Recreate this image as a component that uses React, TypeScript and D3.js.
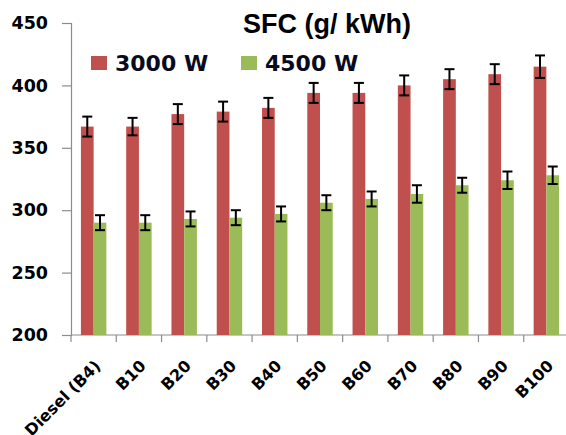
import React, { useRef, useEffect } from 'react';
import * as d3 from 'd3';

const categories = ['Diesel (B4)', 'B10', 'B20', 'B30', 'B40', 'B50', 'B60', 'B70', 'B80', 'B90', 'B100'];
const seriesNames = ['3000 W', '4500 W'];
const sfc3000 = [367, 367, 377, 379, 382, 394, 394, 400, 405, 409, 415];
const sfc4500 = [290, 290, 293, 294, 297, 306, 309, 313, 320, 324, 328];
const err3000 = [8, 7, 8, 8, 8, 8, 8, 8, 8, 8, 9];
const err4500 = [6, 6, 6, 6, 6, 6, 6, 7, 6, 7, 7];
const yTicks = [200, 250, 300, 350, 400, 450];

const colors = ['#C0504D', '#9BBB59'];

function App() {
  const chartRef = useRef<SVGSVGElement>(null);

  useEffect(() => {
    drawChart();
  }, []);

  const drawChart = () => {
    const svgWidth = 566;
    const svgHeight = 435;
    const wide = '"DejaVu Sans", Verdana, sans-serif';
    const arial = 'Arial, "Liberation Sans", sans-serif';

    d3.select(chartRef.current).selectAll('*').remove();

    const svg = d3.select(chartRef.current)
      .attr('width', svgWidth)
      .attr('height', svgHeight);

    const xScale = d3.scaleBand<string>()
      .domain(categories)
      .range([71, 569]);

    const xInner = d3.scaleBand<string>()
      .domain(seriesNames)
      .range([0, xScale.bandwidth()])
      .paddingOuter(0.78);

    const yScale = d3.scaleLinear()
      .domain([200, 450])
      .range([335, 23]);

    // y axis
    const yAxis = svg.append('g')
      .attr('transform', 'translate(71,0)')
      .call(d3.axisLeft(yScale).tickValues(yTicks).tickSize(9).tickPadding(14));
    yAxis.select('.domain').attr('stroke', '#8c8c8c').attr('stroke-width', 1.2);
    yAxis.selectAll('.tick line').attr('stroke', '#8c8c8c').attr('stroke-width', 1.2);
    yAxis.selectAll('.tick text')
      .attr('font-family', wide)
      .attr('font-weight', 'bold')
      .attr('font-size', 17.5)
      .attr('fill', '#000');

    // x axis
    const xAxis = svg.append('g')
      .attr('transform', 'translate(0,335)');
    xAxis.append('line')
      .attr('x1', 71).attr('x2', 566)
      .attr('y1', 0).attr('y2', 0)
      .attr('stroke', '#8c8c8c').attr('stroke-width', 1.2);
    xAxis.selectAll('.xtick')
      .data(categories)
      .enter().append('line')
      .attr('class', 'xtick')
      .attr('x1', d => xScale(d)!)
      .attr('x2', d => xScale(d)!)
      .attr('y1', 0).attr('y2', 7)
      .attr('stroke', '#8c8c8c').attr('stroke-width', 1.2);

    svg.selectAll('.xlabel')
      .data(categories)
      .enter().append('text')
      .attr('class', 'xlabel')
      .attr('transform', d => `translate(${xScale(d)! + xScale.bandwidth() / 2 + 4},363) rotate(-45)`)
      .attr('text-anchor', 'end')
      .attr('dy', '0.35em')
      .attr('font-family', wide)
      .attr('font-weight', 'bold')
      .attr('font-size', 16)
      .attr('fill', '#000')
      .text(d => d);

    // bars
    const series = [
      { name: seriesNames[0], values: sfc3000, errs: err3000 },
      { name: seriesNames[1], values: sfc4500, errs: err4500 },
    ];

    series.forEach((s, si) => {
      const rows = categories.map((c, i) => ({ cat: c, v: s.values[i], e: s.errs[i] }));
      const g = svg.append('g');
      g.selectAll('rect')
        .data(rows)
        .enter().append('rect')
        .attr('x', d => xScale(d.cat)! + xInner(s.name)!)
        .attr('y', d => yScale(d.v))
        .attr('width', xInner.bandwidth())
        .attr('height', d => yScale(200) - yScale(d.v))
        .attr('fill', colors[si]);

      const cx = (d: { cat: string }) => xScale(d.cat)! + xInner(s.name)! + xInner.bandwidth() / 2;
      const eg = svg.append('g').attr('stroke', '#000').attr('stroke-width', 2);
      eg.selectAll('.ev')
        .data(rows)
        .enter().append('line')
        .attr('x1', cx).attr('x2', cx)
        .attr('y1', d => yScale(d.v + d.e))
        .attr('y2', d => yScale(d.v - d.e));
      eg.selectAll('.et')
        .data(rows)
        .enter().append('line')
        .attr('x1', d => cx(d) - 5).attr('x2', d => cx(d) + 5)
        .attr('y1', d => yScale(d.v + d.e))
        .attr('y2', d => yScale(d.v + d.e));
      eg.selectAll('.eb')
        .data(rows)
        .enter().append('line')
        .attr('x1', d => cx(d) - 5).attr('x2', d => cx(d) + 5)
        .attr('y1', d => yScale(d.v - d.e))
        .attr('y2', d => yScale(d.v - d.e));
    });

    // title
    svg.append('text')
      .attr('x', 327)
      .attr('y', 33)
      .attr('text-anchor', 'middle')
      .attr('font-family', arial)
      .attr('font-weight', 'bold')
      .attr('font-size', 27)
      .attr('fill', '#000')
      .text('SFC (g/ kWh)');

    // legend
    const legendX = [91, 241];
    seriesNames.forEach((name, i) => {
      svg.append('rect')
        .attr('x', legendX[i])
        .attr('y', 56)
        .attr('width', 16)
        .attr('height', 14)
        .attr('fill', colors[i]);
      svg.append('text')
        .attr('x', legendX[i] + 24)
        .attr('y', 70.5)
        .attr('font-family', wide)
        .attr('font-weight', 'bold')
        .attr('font-size', 22)
        .attr('fill', '#0a0a1e')
        .text(name);
    });
  };

  return (
    <svg ref={chartRef} style={{ position: 'absolute', left: 0, top: 0 }}></svg>
  );
}

export default App;
